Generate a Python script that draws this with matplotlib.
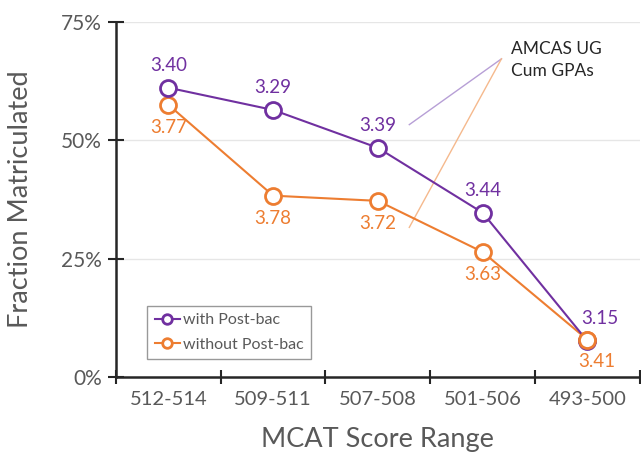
#!/usr/bin/env python3
"""Fraction matriculated by MCAT score range, with and without post-bac."""
import matplotlib

matplotlib.use("Agg")

import matplotlib.pyplot as plt
import numpy as np

plt.rcParams["font.family"] = ["Lato", "DejaVu Sans"]

RANGES = ["512-514", "509-511", "507-508", "501-506", "493-500"]
WITH_PB = [61.1, 56.4, 48.4, 34.7, 7.6]
WITHOUT_PB = [57.5, 38.3, 37.2, 26.4, 7.9]
GPA_WITH = ["3.40", "3.29", "3.39", "3.44", "3.15"]
GPA_WITHOUT = ["3.77", "3.78", "3.72", "3.63", "3.41"]
Y_TICKS = [0, 25, 50, 75]

PURPLE = "#7030A0"
ORANGE = "#ED7D31"
GREY = "#595959"

fig = plt.figure(figsize=(6.41, 4.66), dpi=100)
ax = fig.add_axes([0.181, 0.191, 0.817, 0.762])
x = np.arange(len(RANGES))

for y in Y_TICKS[1:]:
    ax.axhline(y, color="#e6e6e6", lw=1.0, zorder=0)

ax.plot(x, WITHOUT_PB, color=ORANGE, lw=1.5, marker="o", ms=11.5,
        mfc="white", mec=ORANGE, mew=2, label="without Post-bac", zorder=3)
ax.plot(x, WITH_PB, color=PURPLE, lw=1.5, marker="o", ms=11.5,
        mfc="white", mec=PURPLE, mew=2, label="with Post-bac", zorder=4)
# orange marker sits on top at the last point, as in the reference
ax.plot(x[-1:], WITHOUT_PB[-1:], ls="none", marker="o", ms=11.5,
        mfc="white", mec=ORANGE, mew=2, zorder=5)

for i, (v, t) in enumerate(zip(WITH_PB, GPA_WITH)):
    dx = 0.12 if i == len(x) - 1 else 0.0
    ax.annotate(t, (x[i] + dx, v), xytext=(0, 10), textcoords="offset points",
                ha="center", va="bottom", color=PURPLE, fontsize=13.5)
for i, (v, t) in enumerate(zip(WITHOUT_PB, GPA_WITHOUT)):
    dx = 0.09 if i == len(x) - 1 else 0.0
    ax.annotate(t, (x[i] + dx, v), xytext=(0, -10), textcoords="offset points",
                ha="center", va="top", color=ORANGE, fontsize=13.5)

# callout lines to the GPA note
ax.plot([2.3, 3.18], [53.3, 67.2], color="#b79fd6", lw=1.0, zorder=2)
ax.plot([2.3, 3.18], [31.6, 67.2], color="#f5b98d", lw=1.0, zorder=2)
ax.text(3.27, 71.0, "AMCAS UG\nCum GPAs", ha="left", va="top",
        color="#262626", fontsize=12.5, linespacing=1.45)

ax.set_xlim(-0.5, 4.5)
ax.set_ylim(0, 75)
ax.set_yticks(Y_TICKS)
ax.set_yticklabels([f"{v}%" for v in Y_TICKS])
ax.set_xticks(x)
ax.set_xticklabels(RANGES)
ax.set_xticks(np.arange(-0.5, 4.6, 1.0), minor=True)
ax.tick_params(axis="x", which="major", length=0, pad=10, labelsize=14.5,
               labelcolor=GREY)
ax.tick_params(axis="x", which="minor", direction="inout", length=10,
               width=1.5, color="#262626")
ax.tick_params(axis="y", direction="inout", length=12, width=1.5,
               color="#262626", labelsize=15, labelcolor=GREY, pad=4)

for s in ["top", "right"]:
    ax.spines[s].set_visible(False)
for s in ["left", "bottom"]:
    ax.spines[s].set_linewidth(1.8)
    ax.spines[s].set_color("#262626")

ax.set_ylabel("Fraction Matriculated", fontsize=19.5, color=GREY, labelpad=20)
ax.set_xlabel("MCAT Score Range", fontsize=19.5, color=GREY, labelpad=14)

handles, labels = ax.get_legend_handles_labels()
leg = ax.legend(handles[::-1], labels[::-1], loc="lower left",
                bbox_to_anchor=(0.06, 0.05), fontsize=11.5,
                frameon=True, fancybox=False, edgecolor="#808080",
                handlelength=1.6, handletextpad=0.15, markerscale=0.6,
                borderpad=0.45, labelspacing=0.65, borderaxespad=0.0)
leg.get_frame().set_linewidth(1.0)
for t in leg.get_texts():
    t.set_color(GREY)

fig.savefig("out.png", dpi=100)
